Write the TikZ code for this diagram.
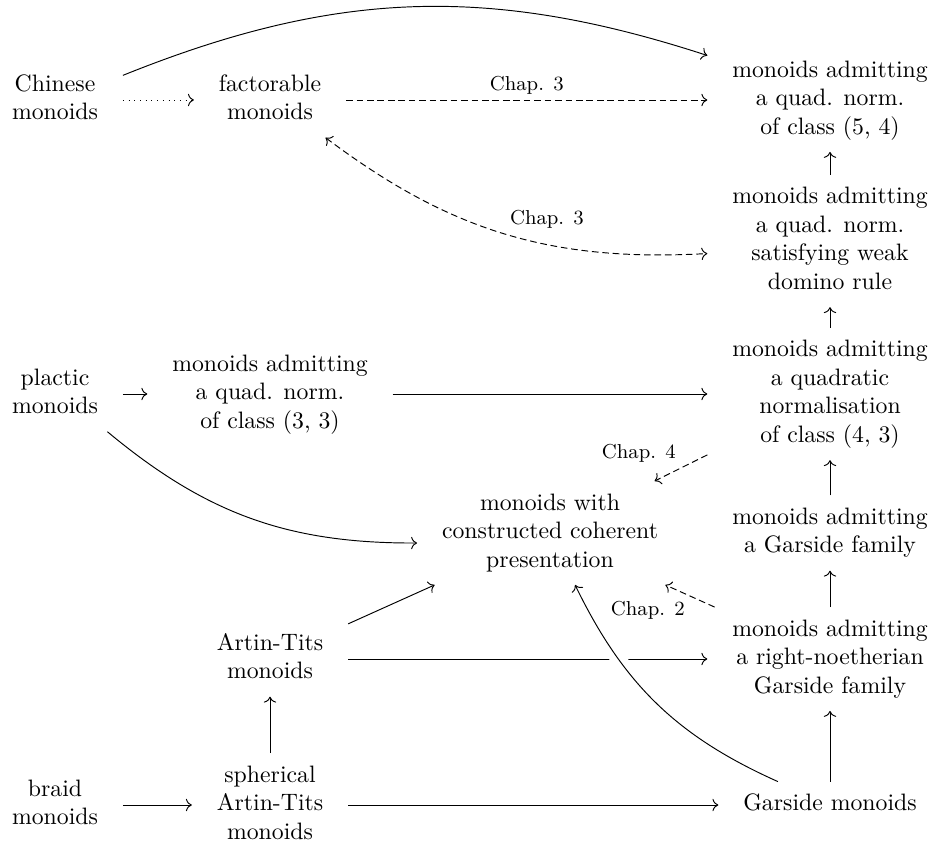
\documentclass[tikz,border=0pt]{standalone}
\usetikzlibrary{arrows.meta}
\newcommand{\mycell}[1]{\begin{tabular}{c}#1\end{tabular}}
\begin{document}
\begin{tikzpicture}[x=0.42105pt, y=0.42105pt,
  cell/.style={inner xsep=1ex, inner ysep=0.85ex},
  arr/.style={-{Computer Modern Rightarrow}, line width=0.4pt},
  dsh/.style={dash pattern=on 2.8pt off 1.6pt},
  dtt/.style={dash pattern=on 0.4pt off 2pt},
  lab/.style={font=\fontsize{8.5}{10}\selectfont, inner sep=2pt},
  crossover/.style={preaction={draw=white, line width=6.45pt, arrows=-}},
]
\useasboundingbox (0,0) rectangle (930,844);
% nodes
\node[cell] (chin) at (55,744) {\mycell{Chinese\\monoids}};
\node[cell] (fact) at (270,744) {\mycell{factorable\\monoids}};
\node[cell] (c54) at (830,744) {\mycell{monoids admitting\\a quad. norm.\\of class (5, 4)}};
\node[cell] (weak) at (830,603) {\mycell{monoids admitting\\a quad. norm.\\satisfying weak\\domino rule}};
\node[cell] (plac) at (55,450) {\mycell{plactic\\monoids}};
\node[cell] (c33) at (270,450) {\mycell{monoids admitting\\a quad. norm.\\of class (3, 3)}};
\node[cell] (c43) at (830,450) {\mycell{monoids admitting\\a quadratic\\normalisation\\of class (4, 3)}};
\node[cell] (coh) at (550,311) {\mycell{monoids with\\constructed coherent\\presentation}};
\node[cell] (gfam) at (830,311) {\mycell{monoids admitting\\a Garside family}};
\node[cell] (art) at (270,185) {\mycell{Artin-Tits\\monoids}};
\node[cell] (rn) at (830,185) {\mycell{monoids admitting\\a right-noetherian\\Garside family}};
\node[cell] (braid) at (55,39) {\mycell{braid\\monoids}};
\node[cell] (sph) at (270,39) {\mycell{spherical\\Artin-Tits\\monoids}};
\node[cell] (gm) at (830,39) {\mycell{Garside monoids}};
% arrows
\draw[arr] (chin) to[bend left=20] (c54);
\draw[arr,dtt] (chin) -- (fact);
\draw[arr,dsh] (fact) -- node[lab, anchor=south]{Chap. 3} (c54);
\draw[dsh, line width=0.4pt, {Computer Modern Rightarrow}-{Computer Modern Rightarrow}] (fact) to[bend right=20] node[lab, anchor=south west]{Chap. 3} (weak);
\draw[arr] (weak) -- (c54);
\draw[arr] (c43) -- (weak);
\draw[arr] (plac) -- (c33);
\draw[arr] (c33) -- (c43);
\draw[arr] (plac) to[bend right=20] (coh);
\draw[arr,dsh] (c43) -- node[lab, anchor=south east]{Chap. 4} (coh);
\draw[arr] (gfam) -- (c43);
\draw[arr] (rn) -- (gfam);
\draw[arr,dsh] (rn) -- node[lab, anchor=north east]{Chap. 2} (coh);
\draw[arr] (art) -- (coh);
\draw[arr] (art) -- (rn);
\draw[arr] (sph) -- (art);
\draw[arr] (braid) -- (sph);
\draw[arr] (sph) -- (gm);
\draw[arr] (gm) -- (rn);
\draw[arr,crossover] (gm) to[bend left=20] (coh);
\end{tikzpicture}
\end{document}
